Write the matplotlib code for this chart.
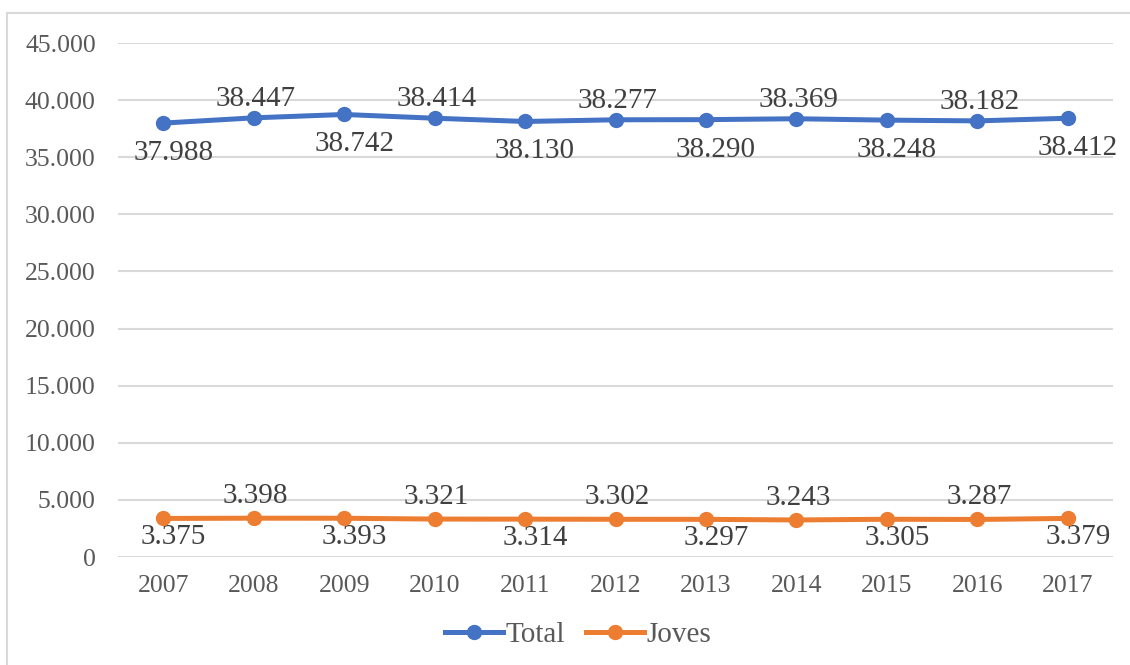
import matplotlib.pyplot as plt
from matplotlib.lines import Line2D
from matplotlib.ticker import FuncFormatter

years = ['2007', '2008', '2009', '2010', '2011', '2012', '2013', '2014', '2015', '2016', '2017']
total = [37988, 38447, 38742, 38414, 38130, 38277, 38290, 38369, 38248, 38182, 38412]
joves = [3375, 3398, 3393, 3321, 3314, 3302, 3297, 3243, 3305, 3287, 3379]

BLUE = '#4472C4'
ORANGE = '#ED7D31'
GRID = '#D9D9D9'

plt.rcParams['font.family'] = ['Liberation Serif', 'DejaVu Serif']

fig = plt.figure(figsize=(11.3, 6.65), dpi=100)
ax = fig.add_axes([118 / 1130, 1 - 557 / 665, (1113 - 118) / 1130, (557 - 43) / 665])

x = list(range(len(years)))
ax.plot(x, total, color=BLUE, lw=3.6, marker='o', ms=10, solid_capstyle='round', zorder=3)
ax.plot(x, joves, color=ORANGE, lw=3.6, marker='o', ms=10, solid_capstyle='round', zorder=3)


def fmt(v):
    return f'{v:,.0f}'.replace(',', '.')


def px(p):
    return p * 72 / 100


# data labels: alternate below / above
for i, v in enumerate(total):
    if i % 2 == 0:
        off = (px(10), px(-30))
    else:
        off = (px(2), px(19))
    ax.annotate(fmt(v), (i, v), xytext=off, textcoords='offset points',
                ha='center', va='center', fontsize=21, color='#404040', zorder=2)

for i, v in enumerate(joves):
    if i % 2 == 0:
        off = (px(10), px(-19))
    else:
        off = (px(2), px(22))
    ax.annotate(fmt(v), (i, v), xytext=off, textcoords='offset points',
                ha='center', va='center', fontsize=21, color='#404040', zorder=2)

ax.set_xlim(-0.5, len(years) - 0.5)
ax.set_ylim(0, 45000)
ax.set_yticks(range(0, 45001, 5000))
ax.yaxis.set_major_formatter(FuncFormatter(lambda v, p: fmt(v)))
ax.set_xticks(x)
ax.set_xticklabels(years)
ax.tick_params(axis='both', length=0, labelsize=18.5, colors='#595959')
ax.tick_params(axis='x', pad=13)
ax.tick_params(axis='y', pad=16)
ax.grid(axis='y', color=GRID, lw=1.5, zorder=0)
ax.set_axisbelow(True)
for s in ax.spines.values():
    s.set_visible(False)

handles = [
    Line2D([], [], color=BLUE, lw=3.6, marker='o', ms=10),
    Line2D([], [], color=ORANGE, lw=3.6, marker='o', ms=10),
]
fig.legend(handles, ['Total', 'Joves'], loc='center', bbox_to_anchor=(578 / 1130, 1 - 635 / 665),
           ncol=2, frameon=False, fontsize=21, labelcolor='#595959',
           handlelength=2.0, handletextpad=0.08, columnspacing=0.7)

# outer chart frame
fig.add_artist(Line2D([7 / 1130, 7 / 1130], [0, 1 - 13 / 665], color=GRID, lw=1.5))
fig.add_artist(Line2D([7 / 1130, 1], [1 - 13 / 665, 1 - 13 / 665], color=GRID, lw=1.5))

fig.savefig('out.png', dpi=100)
